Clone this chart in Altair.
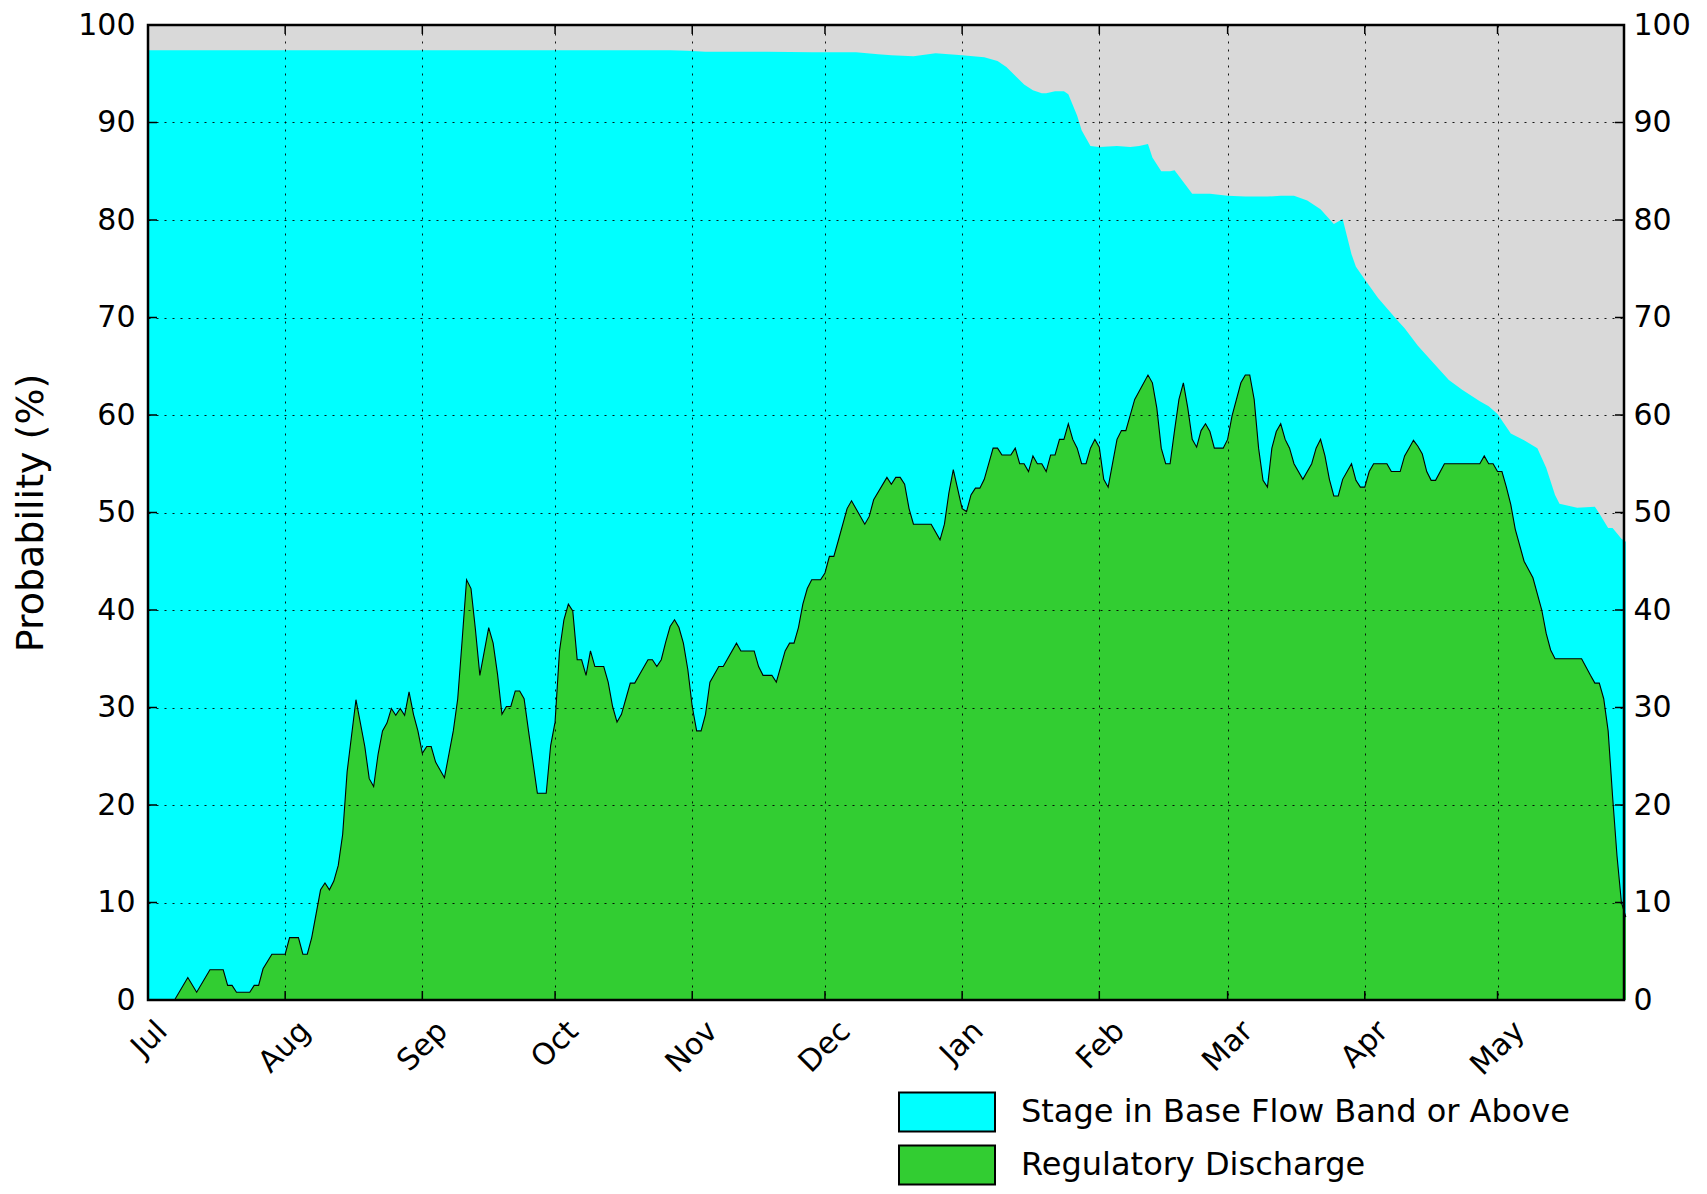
import altair as alt
import pandas as pd

BASE = pd.Timestamp("2015-07-01")

# Regulatory Discharge probability (%) by day offset from 1 Jul 2015
green_day = [0, 6, 9, 11, 14, 17, 18, 19, 20, 23, 24, 25, 26, 28, 31, 32, 34, 35, 36, 37,
             39, 40, 41, 42, 43, 44, 45, 47, 49, 50, 51, 52, 53, 54, 55, 56, 57, 58, 59, 60,
             61, 62, 63, 64, 65, 67, 69, 70, 71, 72, 73, 74, 75, 77, 78, 79, 80, 81, 82, 83,
             84, 85, 86, 88, 90, 91, 92, 93, 94, 95, 96, 97, 98, 99, 100, 101, 103, 104, 105, 106,
             107, 108, 109, 110, 111, 113, 114, 115, 116, 117, 118, 119, 120, 121, 122, 123, 124, 125, 126, 127,
             129, 130, 133, 134, 137, 138, 139, 141, 142, 144, 145, 146, 147, 148, 149, 150, 152, 153, 154, 155,
             156, 158, 159, 162, 163, 164, 167, 168, 169, 170, 171, 172, 173, 177, 179, 180, 181, 182, 184, 185,
             186, 187, 188, 189, 191, 192, 193, 195, 196, 197, 198, 199, 200, 201, 202, 203, 204, 205, 206, 207,
             208, 209, 210, 211, 212, 213, 214, 215, 216, 217, 219, 220, 221, 223, 226, 227, 228, 229, 230, 231,
             232, 233, 234, 235, 236, 237, 238, 239, 240, 241, 243, 244, 245, 247, 248, 249, 250, 251, 252, 253,
             254, 255, 256, 257, 258, 259, 261, 263, 264, 265, 266, 267, 268, 269, 270, 272, 273, 274, 275, 276,
             277, 280, 281, 283, 284, 285, 286, 287, 288, 289, 290, 291, 293, 301, 302, 303, 304, 305, 306, 307,
             308, 309, 311, 313, 315, 316, 317, 318, 324, 326, 327, 328, 329, 330, 331, 332, 333, 334]
green_pct = [0, 0, 2.3, 0.8, 3.1, 3.1, 1.5, 1.5, 0.8, 0.8, 1.5, 1.5, 3.2, 4.7, 4.7, 6.4, 6.4, 4.7, 4.7, 6.4,
             11.3, 12.0, 11.3, 12.2, 13.8, 17.0, 23.4, 30.8, 26.0, 22.7, 21.9, 25.2, 27.6, 28.4, 29.9, 29.2, 29.9, 29.2, 31.6, 29.3,
             27.6, 25.3, 26.0, 26.0, 24.4, 22.8, 27.6, 30.9, 36.9, 43.1, 42.2, 38.0, 33.3, 38.2, 36.6, 33.4, 29.3, 30.1, 30.1, 31.7,
             31.7, 30.9, 27.6, 21.2, 21.2, 26.1, 28.5, 35.8, 39.0, 40.6, 39.9, 34.9, 34.9, 33.3, 35.8, 34.2, 34.2, 32.6, 30.1, 28.5,
             29.3, 30.9, 32.5, 32.5, 33.3, 34.9, 34.9, 34.2, 34.9, 36.7, 38.3, 39.0, 38.2, 36.6, 33.9, 30.1, 27.6, 27.6, 29.3, 32.6,
             34.2, 34.2, 36.6, 35.8, 35.8, 34.2, 33.3, 33.3, 32.6, 35.8, 36.6, 36.6, 38.2, 40.6, 42.2, 43.1, 43.1, 43.8, 45.5, 45.5,
             47.1, 50.4, 51.2, 48.8, 49.6, 51.3, 53.6, 52.9, 53.6, 53.6, 52.9, 50.4, 48.8, 48.8, 47.2, 48.8, 52.0, 54.4, 50.4, 50.1,
             51.8, 52.5, 52.5, 53.4, 56.6, 56.6, 55.9, 55.9, 56.6, 55.0, 55.0, 54.2, 55.8, 55.0, 55.0, 54.2, 55.9, 55.9, 57.5, 57.5,
             59.1, 57.5, 56.6, 55.0, 55.0, 56.6, 57.5, 56.7, 53.4, 52.6, 57.5, 58.4, 58.4, 61.6, 64.1, 63.3, 60.7, 56.6, 55.0, 55.0,
             58.4, 61.6, 63.3, 60.7, 57.5, 56.7, 58.4, 59.1, 58.3, 56.6, 56.6, 57.5, 59.9, 63.3, 64.1, 64.1, 61.6, 56.6, 53.3, 52.6,
             56.6, 58.3, 59.1, 57.5, 56.6, 55.0, 53.4, 55.0, 56.6, 57.5, 55.8, 53.4, 51.7, 51.7, 53.4, 55.0, 53.3, 52.6, 52.6, 54.2,
             55.0, 55.0, 54.2, 54.2, 55.8, 56.6, 57.4, 56.8, 56.0, 54.2, 53.3, 53.3, 55.0, 55.0, 55.8, 55.0, 55.0, 54.2, 54.2, 52.6,
             50.8, 48.3, 45.0, 43.3, 40.0, 37.6, 35.9, 35.0, 35.0, 33.3, 32.5, 32.5, 30.9, 27.6, 20.9, 14.8, 10.0, 8.5]

# Stage in Base Flow Band or Above probability (%) by day offset
cyan_day = [0, 118, 122, 126, 140, 150, 160, 165, 168, 173, 178, 184, 189, 192, 194, 196, 198, 200, 202, 203,
            205, 207, 208, 210, 211, 213, 215, 219, 222, 224, 226, 227, 229, 231, 232, 236, 240, 244, 248, 253,
            256, 259, 262, 265, 268, 270, 272, 273, 275, 278, 282, 284, 287, 290, 294, 297, 301, 303, 305, 308,
            311, 314, 316, 318, 319, 323, 327, 328, 330, 331, 333, 334]
cyan_pct = [97.4, 97.4, 97.35, 97.25, 97.25, 97.2, 97.2, 97.0, 96.9, 96.8, 97.1, 96.9, 96.7, 96.3, 95.7, 94.8, 93.9, 93.3, 93.0, 93.0,
            93.2, 93.2, 92.9, 90.7, 89.2, 87.6, 87.5, 87.6, 87.5, 87.6, 87.8, 86.4, 85.0, 85.0, 85.1, 82.7, 82.7, 82.5, 82.4, 82.4,
            82.5, 82.5, 82.0, 81.1, 79.6, 80.1, 76.5, 75.2, 73.9, 72.0, 69.9, 68.9, 67.1, 65.6, 63.6, 62.6, 61.4, 60.9, 60.1, 58.1,
            57.4, 56.6, 54.6, 51.8, 50.9, 50.5, 50.6, 49.9, 48.4, 48.4, 47.3, 47.0]

month_starts = ["2015-07-01", "2015-08-01", "2015-09-01", "2015-10-01", "2015-11-01", "2015-12-01",
                "2016-01-01", "2016-02-01", "2016-03-01", "2016-04-01", "2016-05-01"]
y_ticks = [0, 10, 20, 30, 40, 50, 60, 70, 80, 90, 100]
series_names = ["Stage in Base Flow Band or Above", "Regulatory Discharge"]
series_colors = ["#00ffff", "#32cd32"]

W, H = 1476, 975
TICK = 9
FONT = "DejaVu Sans"


def iso(days):
    return [(BASE + pd.Timedelta(days=float(d))).strftime("%Y-%m-%dT%H:%M:%SZ") for d in days]


green_df = pd.DataFrame({"date": iso(green_day), "pct": green_pct, "series": series_names[1]})
cyan_df = pd.DataFrame({"date": iso(cyan_day), "pct": cyan_pct, "series": series_names[0]})
month_df = pd.DataFrame({"date": [m + "T00:00:00Z" for m in month_starts]})
ytick_df = pd.DataFrame({"v": y_ticks[1:-1]})


def dt(s):
    y, m, d = (int(p) for p in s.split("-"))
    return alt.DateTime(year=y, month=m, date=d, utc=True)


xscale = alt.Scale(type="utc",
                   domain=[alt.DateTime(year=2015, month=7, date=1, utc=True),
                           alt.DateTime(year=2016, month=5, date=29, hours=14, utc=True)])
yscale = alt.Scale(domain=[0, 100], nice=False)
cscale = alt.Scale(domain=series_names, range=series_colors)

legend = alt.Legend(
    title=None, orient="none", legendX=774, legendY=1062,
    symbolType="M-2,-0.8125L2,-0.8125L2,0.8125L-2,0.8125Z", symbolSize=2304,
    symbolStrokeColor="black", symbolStrokeWidth=2, symbolOpacity=1,
    labelFont=FONT, labelFontSize=32, labelColor="black", labelOffset=49, labelLimit=0,
    rowPadding=4, padding=0,
)

# rotated month labels: shift so each rotated label box is centred on its tick
label_shift = {
    "condition": [
        {"test": "utcmonth(datum.value) == 6", "value": 14},
        {"test": "utcmonth(datum.value) == 0", "value": 16},
        {"test": "utcmonth(datum.value) == 9 || utcmonth(datum.value) == 3", "value": 18},
        {"test": "utcmonth(datum.value) == 4", "value": 22},
    ],
    "value": 20,
}

x_axis = alt.Axis(values=[dt(m) for m in month_starts], format="%b", title=None,
                  labelAngle=315, labelAlign="right", labelBaseline="middle",
                  labelPadding=26, labelOffset=label_shift, labelFlush=False, labelOverlap=False,
                  grid=True, gridColor="black", gridDash=[2, 6], gridWidth=1, gridOpacity=0.9,
                  domain=False, ticks=False, tickSize=0, zindex=1,
                  labelFont=FONT, labelFontSize=30, labelColor="black")

y_left = alt.Axis(values=y_ticks, orient="left", title="Probability (%)",
                  grid=True, gridColor="black", gridDash=[2, 6], gridWidth=1, gridOpacity=0.9,
                  domain=False, ticks=False, tickSize=0, labelPadding=13, zindex=1,
                  labelFont=FONT, labelFontSize=30, labelColor="black",
                  titleFont=FONT, titleFontSize=38, titleFontWeight="normal", titleColor="black",
                  titlePadding=27)

y_right = alt.Axis(values=y_ticks, orient="right", title=None, grid=False,
                   domain=False, ticks=False, tickSize=0, labelPadding=9,
                   labelFont=FONT, labelFontSize=30, labelColor="black")

X = alt.X("date:T", scale=xscale, axis=x_axis)

background = alt.Chart(ytick_df.head(1)).mark_rect(fill="#d9d9d9", strokeWidth=0).encode(
    x=alt.value(0), x2=alt.value(W), y=alt.value(0), y2=alt.value(H))

cyan = alt.Chart(cyan_df).mark_area(opacity=1, interpolate="linear").encode(
    x=X,
    y=alt.Y("pct:Q", scale=yscale, axis=y_left),
    color=alt.Color("series:N", scale=cscale, legend=legend),
)

green = alt.Chart(green_df).mark_area(opacity=1, interpolate="linear").encode(
    x=X,
    y=alt.Y("pct:Q", scale=yscale, axis=y_right),
    color=alt.Color("series:N", scale=cscale, legend=legend),
)

green_line = alt.Chart(green_df).mark_line(color="black", strokeWidth=1.1, interpolate="linear").encode(
    x=X,
    y=alt.Y("pct:Q", scale=yscale, axis=None),
)

left_ticks = alt.Chart(ytick_df).mark_rule(color="black", strokeWidth=1.5).encode(
    y=alt.Y("v:Q", scale=yscale, axis=None), x=alt.value(0), x2=alt.value(TICK))
right_ticks = alt.Chart(ytick_df).mark_rule(color="black", strokeWidth=1.5).encode(
    y=alt.Y("v:Q", scale=yscale, axis=None), x=alt.value(W - TICK), x2=alt.value(W))
bottom_ticks = alt.Chart(month_df).mark_rule(color="black", strokeWidth=1.5).encode(
    x=X, y=alt.value(H - TICK), y2=alt.value(H))
top_ticks = alt.Chart(month_df).mark_rule(color="black", strokeWidth=1.5).encode(
    x=X, y=alt.value(0), y2=alt.value(TICK))

frame = alt.Chart(ytick_df.head(1)).mark_rect(fillOpacity=0, fill="white", stroke="black", strokeWidth=2.5).encode(
    x=alt.value(0), x2=alt.value(W), y=alt.value(0), y2=alt.value(H))

chart = alt.layer(
    background, cyan, green, green_line, left_ticks, right_ticks, bottom_ticks, top_ticks, frame
).resolve_axis(y="independent").properties(
    width=W, height=H,
    padding={"left": 140, "top": 17, "right": 75, "bottom": 186},
    autosize=alt.AutoSizeParams(type="none"),
).configure_view(strokeWidth=0).configure(background="white")

chart.save("out.html", embed_options={"renderer": "svg", "actions": False})
